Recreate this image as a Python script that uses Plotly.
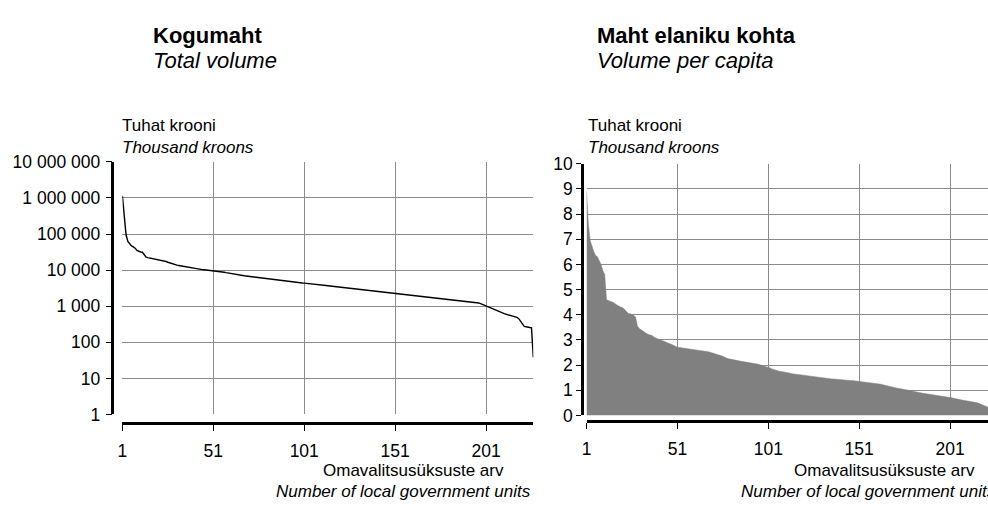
import plotly.graph_objects as go

W, H = 988, 510

# ---------------- data ----------------
units = list(range(1, 228))

total_volume = [
    1150000, 280000, 95000, 62000, 52000, 47000, 44000, 40500, 35000, 32500,
    31800, 31200, 27500, 23000, 22100,
    21600, 21200, 20800, 20300, 19900, 19400, 19000, 18600, 18100, 17300,
    16500, 15800, 15100, 14600, 14100,
    13700, 13400, 13100, 12800, 12500, 12200, 11900, 11600, 11300, 11100,
    10900, 10800, 10600, 10450, 10300, 10200, 10100, 10000, 9900, 9800,
    9700, 9600, 9450, 9300, 9100, 8900, 8700, 8500, 8300, 8100,
    7900, 7700, 7550, 7400, 7300, 7200, 7050, 6950, 6850, 6750,
    6650, 6550, 6450, 6350, 6250, 6150, 6050, 5950, 5850, 5750,
    5650, 5550, 5450, 5350, 5260, 5180, 5100, 5030, 4960, 4900,
    4840, 4780, 4720, 4660, 4600, 4560, 4520, 4480, 4440, 4400,
    4360, 4320, 4280, 4230, 4180, 4130, 4080, 4020, 3960, 3900,
    3850, 3800, 3750, 3700, 3650, 3610, 3570, 3530, 3490, 3450,
    3410, 3370, 3330, 3290, 3250,
    3210, 3170, 3130, 3090, 3050, 3010, 2970, 2930, 2890, 2850,
    2810, 2780, 2750, 2720, 2690, 2660, 2630, 2600, 2570, 2540,
    2510, 2480, 2450, 2420, 2390,
    2360, 2330, 2300, 2270, 2240, 2210, 2180, 2150, 2120, 2090,
    2060, 2030, 2000, 1970, 1940, 1910, 1880, 1850, 1820, 1800,
    1780, 1760, 1740, 1720, 1700,
    1680, 1660, 1640, 1620, 1600, 1580, 1560, 1540, 1520, 1500,
    1480, 1460, 1440, 1420, 1400, 1380, 1360, 1340, 1320, 1300,
    1270, 1230, 1180, 1120, 1060,
    1030, 990, 940, 880, 830, 780, 740, 700, 670, 640,
    620, 600, 580, 565, 550, 535, 515, 490, 450, 380,
    300, 275, 270, 265, 258, 250, 38,
]

per_capita = [
    8.9, 7.6, 6.95, 6.7, 6.5, 6.35, 6.3, 6.15, 6.0, 5.75,
    5.6, 4.6, 4.57, 4.55, 4.52, 4.48, 4.42, 4.37, 4.33, 4.3,
    4.28, 4.2, 4.1, 4.05, 4.04, 4.02, 3.98, 3.9, 3.55, 3.45,
    3.4, 3.33, 3.3, 3.26, 3.22, 3.2, 3.18, 3.12, 3.07, 3.05,
    3.02, 3.0, 2.97, 2.94, 2.9, 2.88, 2.85, 2.82, 2.78, 2.73,
    2.71, 2.7, 2.69, 2.68, 2.68, 2.67, 2.66, 2.65, 2.64, 2.62,
    2.61, 2.6, 2.59, 2.58, 2.57, 2.56, 2.55, 2.53, 2.51, 2.49,
    2.47, 2.45, 2.43, 2.41, 2.38, 2.35, 2.31, 2.27, 2.25, 2.24,
    2.22, 2.21, 2.2, 2.18, 2.16, 2.15, 2.14, 2.13, 2.12, 2.11,
    2.1, 2.08, 2.07, 2.05, 2.04, 2.02, 2.0, 1.99, 1.97, 1.95,
    1.93, 1.89, 1.85, 1.82, 1.8, 1.78, 1.76, 1.75, 1.73, 1.72,
    1.71, 1.69, 1.68, 1.66, 1.65, 1.63, 1.62, 1.61, 1.6, 1.58,
    1.57, 1.56, 1.55, 1.54, 1.53,
    1.52, 1.51, 1.51, 1.5, 1.49, 1.48, 1.48, 1.47, 1.46, 1.46,
    1.45, 1.45, 1.44, 1.43, 1.43, 1.42, 1.42, 1.41, 1.4, 1.4,
    1.39, 1.39, 1.38, 1.38, 1.37,
    1.37, 1.36, 1.36, 1.35, 1.34, 1.33, 1.32, 1.31, 1.3, 1.29,
    1.28, 1.26, 1.24, 1.22, 1.2, 1.18, 1.16, 1.14, 1.12, 1.1,
    1.09, 1.08, 1.07, 1.06, 1.05,
    1.04, 1.03, 1.01, 0.99, 0.97, 0.95, 0.93, 0.92, 0.9, 0.89,
    0.88, 0.87, 0.86, 0.85, 0.84, 0.83, 0.82, 0.81, 0.8, 0.79,
    0.77, 0.76, 0.75, 0.73, 0.72,
    0.71, 0.7, 0.68, 0.67, 0.65, 0.63, 0.62, 0.6, 0.59, 0.58,
    0.57, 0.56, 0.55, 0.54, 0.52, 0.5, 0.47, 0.44, 0.41, 0.37,
    0.34, 0.31, 0.29, 0.27, 0.25, 0.22, 0.18,
]

x_tickvals = [1, 51, 101, 151, 201]
log_tickvals = [1, 10, 100, 1000, 10000, 100000, 1000000, 10000000]
log_ticktext = ["1", "10", "100", "1 000", "10 000", "100 000", "1 000 000", "10 000 000"]
lin_tickvals = list(range(0, 11))

title_left = ("Kogumaht", "Total volume")
title_right = ("Maht elaniku kohta", "Volume per capita")
unit_label = ("Tuhat krooni", "Thousand kroons")
x_label = ("Omavalitsusüksuste arv", "Number of local government units")

# ---------------- helpers ----------------
def px(x):
    return x / W

def py(y):
    return 1 - y / H

FONT = "Liberation Sans, Arial, sans-serif"
GRID = "#8c8c8c"
TICKSIZE = 17.5

fig = go.Figure()

fig.add_trace(go.Scatter(
    x=units, y=total_volume, mode="lines",
    line=dict(color="black", width=1.4),
    xaxis="x", yaxis="y", hoverinfo="skip", showlegend=False,
))
fig.add_trace(go.Scatter(
    x=units, y=per_capita, mode="lines", fill="tozeroy",
    fillcolor="#808080", line=dict(color="#808080", width=0.5),
    xaxis="x2", yaxis="y2", hoverinfo="skip", showlegend=False,
))

common_axis = dict(
    showline=True, linecolor="black", linewidth=2.5,
    ticks="outside", tickcolor="black", tickwidth=1.2,
    showgrid=True, gridcolor=GRID, gridwidth=1,
    zeroline=False, tickfont=dict(family=FONT, size=TICKSIZE, color="black"),
    fixedrange=True,
)

fig.update_layout(
    width=W, height=H, autosize=False,
    margin=dict(l=0, r=0, t=0, b=0),
    paper_bgcolor="white", plot_bgcolor="white",
    font=dict(family=FONT, size=17, color="black"),
    xaxis=dict(
        **common_axis, domain=[px(118), px(531)], range=[1, 227],
        anchor="free", position=py(430), tickvals=x_tickvals, ticklen=6,
        ticklabelstandoff=5,
    ),
    yaxis=dict(
        **common_axis, domain=[py(421), py(158)], type="log", range=[0, 7],
        anchor="free", position=px(108), tickvals=log_tickvals,
        ticktext=log_ticktext, ticklen=6, ticklabelstandoff=2,
    ),
    xaxis2=dict(
        **common_axis, domain=[px(584.5), 1], range=[1, 1 + (988 - 584.5) / 1.827],
        anchor="free", position=py(428), tickvals=x_tickvals, ticklen=6,
        ticklabelstandoff=5,
    ),
    yaxis2=dict(
        **common_axis, domain=[py(422), py(160)], range=[0, 10],
        anchor="free", position=px(580), tickvals=lin_tickvals, ticklen=5,
    ),
)

def note(text, x, y, anchor="left", bold=False, italic=False, size=17):
    t = text
    if bold:
        t = "<b>" + t + "</b>"
    if italic:
        t = "<i>" + t + "</i>"
    fig.add_annotation(
        text=t, x=px(x), y=py(y), xref="paper", yref="paper",
        xanchor=anchor, yanchor="middle", showarrow=False,
        font=dict(family=FONT, size=size, color="black"),
    )

# chart titles
note(title_left[0], 147, 27, bold=True, size=22)
note(title_left[1], 147, 53, italic=True, size=22)
note(title_right[0], 593, 27, bold=True, size=22)
note(title_right[1], 593, 53, italic=True, size=22)

# unit labels
note(unit_label[0], 116, 120)
note(unit_label[1], 116, 143, italic=True)
note(unit_label[0], 584, 120)
note(unit_label[1], 584, 143, italic=True)

# x-axis titles
note(x_label[0], 504, 479, anchor="right")
note(x_label[1], 531, 501, anchor="right", italic=True)
note(x_label[0], 977, 479, anchor="right")
note(x_label[1], 998, 501, anchor="right", italic=True)

fig.write_html("out.html")
